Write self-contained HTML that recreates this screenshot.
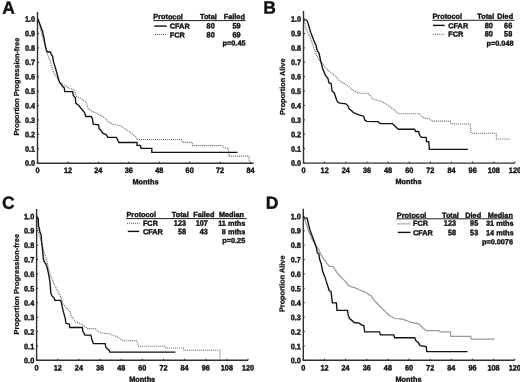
<!DOCTYPE html>
<html><head><meta charset="utf-8"><style>
html,body{margin:0;padding:0;background:#fff;}
svg{display:block;font-family:"Liberation Sans", sans-serif;filter:grayscale(1) blur(0.35px);}
text{fill:#111;stroke:#111;stroke-width:0.38px;}
</style></head><body>
<svg width="520" height="382" viewBox="0 0 520 382">
<rect width="520" height="382" fill="#fff"/>
<line x1="37.50" y1="12.00" x2="37.50" y2="163.20" stroke="#303030" stroke-width="1.4" />
<line x1="36.80" y1="163.20" x2="253.50" y2="163.20" stroke="#303030" stroke-width="1.4" />
<line x1="37.50" y1="163.20" x2="39.00" y2="163.20" stroke="#303030" stroke-width="1.0" />
<text transform="translate(35.10,165.75) rotate(0.1) scale(1,1.08)" font-size="7.3" text-anchor="end" font-weight="bold" >0.0</text>
<line x1="37.50" y1="148.80" x2="39.00" y2="148.80" stroke="#303030" stroke-width="1.0" />
<text transform="translate(35.10,151.80) rotate(0.1) scale(1,1.08)" font-size="7.3" text-anchor="end" font-weight="bold" >0.1</text>
<line x1="37.50" y1="134.40" x2="39.00" y2="134.40" stroke="#303030" stroke-width="1.0" />
<text transform="translate(35.10,137.35) rotate(0.1) scale(1,1.08)" font-size="7.3" text-anchor="end" font-weight="bold" >0.2</text>
<line x1="37.50" y1="120.00" x2="39.00" y2="120.00" stroke="#303030" stroke-width="1.0" />
<text transform="translate(35.10,122.90) rotate(0.1) scale(1,1.08)" font-size="7.3" text-anchor="end" font-weight="bold" >0.3</text>
<line x1="37.50" y1="105.60" x2="39.00" y2="105.60" stroke="#303030" stroke-width="1.0" />
<text transform="translate(35.10,108.45) rotate(0.1) scale(1,1.08)" font-size="7.3" text-anchor="end" font-weight="bold" >0.4</text>
<line x1="37.50" y1="91.20" x2="39.00" y2="91.20" stroke="#303030" stroke-width="1.0" />
<text transform="translate(35.10,94.00) rotate(0.1) scale(1,1.08)" font-size="7.3" text-anchor="end" font-weight="bold" >0.5</text>
<line x1="37.50" y1="76.80" x2="39.00" y2="76.80" stroke="#303030" stroke-width="1.0" />
<text transform="translate(35.10,79.55) rotate(0.1) scale(1,1.08)" font-size="7.3" text-anchor="end" font-weight="bold" >0.6</text>
<line x1="37.50" y1="62.40" x2="39.00" y2="62.40" stroke="#303030" stroke-width="1.0" />
<text transform="translate(35.10,65.10) rotate(0.1) scale(1,1.08)" font-size="7.3" text-anchor="end" font-weight="bold" >0.7</text>
<line x1="37.50" y1="48.00" x2="39.00" y2="48.00" stroke="#303030" stroke-width="1.0" />
<text transform="translate(35.10,50.65) rotate(0.1) scale(1,1.08)" font-size="7.3" text-anchor="end" font-weight="bold" >0.8</text>
<line x1="37.50" y1="33.60" x2="39.00" y2="33.60" stroke="#303030" stroke-width="1.0" />
<text transform="translate(35.10,36.20) rotate(0.1) scale(1,1.08)" font-size="7.3" text-anchor="end" font-weight="bold" >0.9</text>
<line x1="37.50" y1="19.20" x2="39.00" y2="19.20" stroke="#303030" stroke-width="1.0" />
<text transform="translate(35.10,21.75) rotate(0.1) scale(1,1.08)" font-size="7.3" text-anchor="end" font-weight="bold" >1.0</text>
<text transform="translate(37.50,173.00) rotate(0.1) scale(1,1.08)" font-size="7.3" text-anchor="middle" font-weight="bold" >0</text>
<line x1="67.93" y1="163.20" x2="67.93" y2="161.60" stroke="#303030" stroke-width="1.0" />
<text transform="translate(67.93,173.00) rotate(0.1) scale(1,1.08)" font-size="7.3" text-anchor="middle" font-weight="bold" >12</text>
<line x1="98.36" y1="163.20" x2="98.36" y2="161.60" stroke="#303030" stroke-width="1.0" />
<text transform="translate(98.36,173.00) rotate(0.1) scale(1,1.08)" font-size="7.3" text-anchor="middle" font-weight="bold" >24</text>
<line x1="128.80" y1="163.20" x2="128.80" y2="161.60" stroke="#303030" stroke-width="1.0" />
<text transform="translate(128.80,173.00) rotate(0.1) scale(1,1.08)" font-size="7.3" text-anchor="middle" font-weight="bold" >36</text>
<line x1="159.23" y1="163.20" x2="159.23" y2="161.60" stroke="#303030" stroke-width="1.0" />
<text transform="translate(159.23,173.00) rotate(0.1) scale(1,1.08)" font-size="7.3" text-anchor="middle" font-weight="bold" >48</text>
<line x1="189.66" y1="163.20" x2="189.66" y2="161.60" stroke="#303030" stroke-width="1.0" />
<text transform="translate(189.66,173.00) rotate(0.1) scale(1,1.08)" font-size="7.3" text-anchor="middle" font-weight="bold" >60</text>
<line x1="220.09" y1="163.20" x2="220.09" y2="161.60" stroke="#303030" stroke-width="1.0" />
<text transform="translate(220.09,173.00) rotate(0.1) scale(1,1.08)" font-size="7.3" text-anchor="middle" font-weight="bold" >72</text>
<line x1="250.52" y1="163.20" x2="250.52" y2="161.60" stroke="#303030" stroke-width="1.0" />
<text transform="translate(250.52,173.00) rotate(0.1) scale(1,1.08)" font-size="7.3" text-anchor="middle" font-weight="bold" >84</text>
<text transform="translate(145.50,184.20) rotate(0.1)" font-size="7.3" text-anchor="middle" font-weight="bold" >Months</text>
<text x="0.00" y="0.00" font-size="7.3" text-anchor="middle" font-weight="bold" transform="translate(19.1,86.65) rotate(-89.9)" style="stroke-width:0.25px" >Proportion Progression-free</text>
<text transform="translate(2.30,13.80) rotate(0.1)" font-size="17.5" text-anchor="start" font-weight="bold" >A</text>
<line x1="303.50" y1="11.00" x2="303.50" y2="163.10" stroke="#303030" stroke-width="1.4" />
<line x1="302.80" y1="163.10" x2="515.00" y2="163.10" stroke="#303030" stroke-width="1.4" />
<line x1="303.50" y1="163.10" x2="305.00" y2="163.10" stroke="#303030" stroke-width="1.0" />
<text transform="translate(301.10,165.75) rotate(0.1) scale(1,1.08)" font-size="7.3" text-anchor="end" font-weight="bold" >0.0</text>
<line x1="303.50" y1="148.70" x2="305.00" y2="148.70" stroke="#303030" stroke-width="1.0" />
<text transform="translate(301.10,151.80) rotate(0.1) scale(1,1.08)" font-size="7.3" text-anchor="end" font-weight="bold" >0.1</text>
<line x1="303.50" y1="134.30" x2="305.00" y2="134.30" stroke="#303030" stroke-width="1.0" />
<text transform="translate(301.10,137.35) rotate(0.1) scale(1,1.08)" font-size="7.3" text-anchor="end" font-weight="bold" >0.2</text>
<line x1="303.50" y1="119.90" x2="305.00" y2="119.90" stroke="#303030" stroke-width="1.0" />
<text transform="translate(301.10,122.90) rotate(0.1) scale(1,1.08)" font-size="7.3" text-anchor="end" font-weight="bold" >0.3</text>
<line x1="303.50" y1="105.50" x2="305.00" y2="105.50" stroke="#303030" stroke-width="1.0" />
<text transform="translate(301.10,108.45) rotate(0.1) scale(1,1.08)" font-size="7.3" text-anchor="end" font-weight="bold" >0.4</text>
<line x1="303.50" y1="91.10" x2="305.00" y2="91.10" stroke="#303030" stroke-width="1.0" />
<text transform="translate(301.10,94.00) rotate(0.1) scale(1,1.08)" font-size="7.3" text-anchor="end" font-weight="bold" >0.5</text>
<line x1="303.50" y1="76.70" x2="305.00" y2="76.70" stroke="#303030" stroke-width="1.0" />
<text transform="translate(301.10,79.55) rotate(0.1) scale(1,1.08)" font-size="7.3" text-anchor="end" font-weight="bold" >0.6</text>
<line x1="303.50" y1="62.30" x2="305.00" y2="62.30" stroke="#303030" stroke-width="1.0" />
<text transform="translate(301.10,65.10) rotate(0.1) scale(1,1.08)" font-size="7.3" text-anchor="end" font-weight="bold" >0.7</text>
<line x1="303.50" y1="47.90" x2="305.00" y2="47.90" stroke="#303030" stroke-width="1.0" />
<text transform="translate(301.10,50.65) rotate(0.1) scale(1,1.08)" font-size="7.3" text-anchor="end" font-weight="bold" >0.8</text>
<line x1="303.50" y1="33.50" x2="305.00" y2="33.50" stroke="#303030" stroke-width="1.0" />
<text transform="translate(301.10,36.20) rotate(0.1) scale(1,1.08)" font-size="7.3" text-anchor="end" font-weight="bold" >0.9</text>
<line x1="303.50" y1="19.10" x2="305.00" y2="19.10" stroke="#303030" stroke-width="1.0" />
<text transform="translate(301.10,21.75) rotate(0.1) scale(1,1.08)" font-size="7.3" text-anchor="end" font-weight="bold" >1.0</text>
<text transform="translate(303.50,173.00) rotate(0.1) scale(1,1.08)" font-size="7.3" text-anchor="middle" font-weight="bold" >0</text>
<line x1="324.64" y1="163.10" x2="324.64" y2="161.50" stroke="#303030" stroke-width="1.0" />
<text transform="translate(324.64,173.00) rotate(0.1) scale(1,1.08)" font-size="7.3" text-anchor="middle" font-weight="bold" >12</text>
<line x1="345.79" y1="163.10" x2="345.79" y2="161.50" stroke="#303030" stroke-width="1.0" />
<text transform="translate(345.79,173.00) rotate(0.1) scale(1,1.08)" font-size="7.3" text-anchor="middle" font-weight="bold" >24</text>
<line x1="366.93" y1="163.10" x2="366.93" y2="161.50" stroke="#303030" stroke-width="1.0" />
<text transform="translate(366.93,173.00) rotate(0.1) scale(1,1.08)" font-size="7.3" text-anchor="middle" font-weight="bold" >36</text>
<line x1="388.08" y1="163.10" x2="388.08" y2="161.50" stroke="#303030" stroke-width="1.0" />
<text transform="translate(388.08,173.00) rotate(0.1) scale(1,1.08)" font-size="7.3" text-anchor="middle" font-weight="bold" >48</text>
<line x1="409.22" y1="163.10" x2="409.22" y2="161.50" stroke="#303030" stroke-width="1.0" />
<text transform="translate(409.22,173.00) rotate(0.1) scale(1,1.08)" font-size="7.3" text-anchor="middle" font-weight="bold" >60</text>
<line x1="430.36" y1="163.10" x2="430.36" y2="161.50" stroke="#303030" stroke-width="1.0" />
<text transform="translate(430.36,173.00) rotate(0.1) scale(1,1.08)" font-size="7.3" text-anchor="middle" font-weight="bold" >72</text>
<line x1="451.51" y1="163.10" x2="451.51" y2="161.50" stroke="#303030" stroke-width="1.0" />
<text transform="translate(451.51,173.00) rotate(0.1) scale(1,1.08)" font-size="7.3" text-anchor="middle" font-weight="bold" >84</text>
<line x1="472.65" y1="163.10" x2="472.65" y2="161.50" stroke="#303030" stroke-width="1.0" />
<text transform="translate(472.65,173.00) rotate(0.1) scale(1,1.08)" font-size="7.3" text-anchor="middle" font-weight="bold" >96</text>
<line x1="493.80" y1="163.10" x2="493.80" y2="161.50" stroke="#303030" stroke-width="1.0" />
<text transform="translate(493.80,173.00) rotate(0.1) scale(1,1.08)" font-size="7.3" text-anchor="middle" font-weight="bold" >108</text>
<line x1="514.94" y1="163.10" x2="514.94" y2="161.50" stroke="#303030" stroke-width="1.0" />
<text transform="translate(514.94,173.00) rotate(0.1) scale(1,1.08)" font-size="7.3" text-anchor="middle" font-weight="bold" >120</text>
<text transform="translate(408.50,184.00) rotate(0.1)" font-size="7.3" text-anchor="middle" font-weight="bold" >Months</text>
<text x="0.00" y="0.00" font-size="7.3" text-anchor="middle" font-weight="bold" transform="translate(285.0,86.8) rotate(-89.9)" style="stroke-width:0.25px" >Proportion Alive</text>
<text transform="translate(263.30,13.60) rotate(0.1)" font-size="17.5" text-anchor="start" font-weight="bold" >B</text>
<line x1="36.60" y1="209.00" x2="36.60" y2="360.30" stroke="#303030" stroke-width="1.4" />
<line x1="35.90" y1="360.30" x2="248.00" y2="360.30" stroke="#303030" stroke-width="1.4" />
<line x1="36.60" y1="360.30" x2="38.10" y2="360.30" stroke="#303030" stroke-width="1.0" />
<text transform="translate(34.20,363.25) rotate(0.1) scale(1,1.08)" font-size="7.3" text-anchor="end" font-weight="bold" >0.0</text>
<line x1="36.60" y1="345.90" x2="38.10" y2="345.90" stroke="#303030" stroke-width="1.0" />
<text transform="translate(34.20,349.20) rotate(0.1) scale(1,1.08)" font-size="7.3" text-anchor="end" font-weight="bold" >0.1</text>
<line x1="36.60" y1="331.50" x2="38.10" y2="331.50" stroke="#303030" stroke-width="1.0" />
<text transform="translate(34.20,334.75) rotate(0.1) scale(1,1.08)" font-size="7.3" text-anchor="end" font-weight="bold" >0.2</text>
<line x1="36.60" y1="317.10" x2="38.10" y2="317.10" stroke="#303030" stroke-width="1.0" />
<text transform="translate(34.20,320.30) rotate(0.1) scale(1,1.08)" font-size="7.3" text-anchor="end" font-weight="bold" >0.3</text>
<line x1="36.60" y1="302.70" x2="38.10" y2="302.70" stroke="#303030" stroke-width="1.0" />
<text transform="translate(34.20,305.85) rotate(0.1) scale(1,1.08)" font-size="7.3" text-anchor="end" font-weight="bold" >0.4</text>
<line x1="36.60" y1="288.30" x2="38.10" y2="288.30" stroke="#303030" stroke-width="1.0" />
<text transform="translate(34.20,291.40) rotate(0.1) scale(1,1.08)" font-size="7.3" text-anchor="end" font-weight="bold" >0.5</text>
<line x1="36.60" y1="273.90" x2="38.10" y2="273.90" stroke="#303030" stroke-width="1.0" />
<text transform="translate(34.20,276.95) rotate(0.1) scale(1,1.08)" font-size="7.3" text-anchor="end" font-weight="bold" >0.6</text>
<line x1="36.60" y1="259.50" x2="38.10" y2="259.50" stroke="#303030" stroke-width="1.0" />
<text transform="translate(34.20,262.50) rotate(0.1) scale(1,1.08)" font-size="7.3" text-anchor="end" font-weight="bold" >0.7</text>
<line x1="36.60" y1="245.10" x2="38.10" y2="245.10" stroke="#303030" stroke-width="1.0" />
<text transform="translate(34.20,248.05) rotate(0.1) scale(1,1.08)" font-size="7.3" text-anchor="end" font-weight="bold" >0.8</text>
<line x1="36.60" y1="230.70" x2="38.10" y2="230.70" stroke="#303030" stroke-width="1.0" />
<text transform="translate(34.20,233.60) rotate(0.1) scale(1,1.08)" font-size="7.3" text-anchor="end" font-weight="bold" >0.9</text>
<line x1="36.60" y1="216.30" x2="38.10" y2="216.30" stroke="#303030" stroke-width="1.0" />
<text transform="translate(34.20,219.15) rotate(0.1) scale(1,1.08)" font-size="7.3" text-anchor="end" font-weight="bold" >1.0</text>
<text transform="translate(36.60,370.40) rotate(0.1) scale(1,1.08)" font-size="7.3" text-anchor="middle" font-weight="bold" >0</text>
<line x1="57.74" y1="360.30" x2="57.74" y2="358.70" stroke="#303030" stroke-width="1.0" />
<text transform="translate(57.74,370.40) rotate(0.1) scale(1,1.08)" font-size="7.3" text-anchor="middle" font-weight="bold" >12</text>
<line x1="78.89" y1="360.30" x2="78.89" y2="358.70" stroke="#303030" stroke-width="1.0" />
<text transform="translate(78.89,370.40) rotate(0.1) scale(1,1.08)" font-size="7.3" text-anchor="middle" font-weight="bold" >24</text>
<line x1="100.03" y1="360.30" x2="100.03" y2="358.70" stroke="#303030" stroke-width="1.0" />
<text transform="translate(100.03,370.40) rotate(0.1) scale(1,1.08)" font-size="7.3" text-anchor="middle" font-weight="bold" >36</text>
<line x1="121.18" y1="360.30" x2="121.18" y2="358.70" stroke="#303030" stroke-width="1.0" />
<text transform="translate(121.18,370.40) rotate(0.1) scale(1,1.08)" font-size="7.3" text-anchor="middle" font-weight="bold" >48</text>
<line x1="142.32" y1="360.30" x2="142.32" y2="358.70" stroke="#303030" stroke-width="1.0" />
<text transform="translate(142.32,370.40) rotate(0.1) scale(1,1.08)" font-size="7.3" text-anchor="middle" font-weight="bold" >60</text>
<line x1="163.46" y1="360.30" x2="163.46" y2="358.70" stroke="#303030" stroke-width="1.0" />
<text transform="translate(163.46,370.40) rotate(0.1) scale(1,1.08)" font-size="7.3" text-anchor="middle" font-weight="bold" >72</text>
<line x1="184.61" y1="360.30" x2="184.61" y2="358.70" stroke="#303030" stroke-width="1.0" />
<text transform="translate(184.61,370.40) rotate(0.1) scale(1,1.08)" font-size="7.3" text-anchor="middle" font-weight="bold" >84</text>
<line x1="205.75" y1="360.30" x2="205.75" y2="358.70" stroke="#303030" stroke-width="1.0" />
<text transform="translate(205.75,370.40) rotate(0.1) scale(1,1.08)" font-size="7.3" text-anchor="middle" font-weight="bold" >96</text>
<line x1="226.90" y1="360.30" x2="226.90" y2="358.70" stroke="#303030" stroke-width="1.0" />
<text transform="translate(226.90,370.40) rotate(0.1) scale(1,1.08)" font-size="7.3" text-anchor="middle" font-weight="bold" >108</text>
<line x1="248.04" y1="360.30" x2="248.04" y2="358.70" stroke="#303030" stroke-width="1.0" />
<text transform="translate(248.04,370.40) rotate(0.1) scale(1,1.08)" font-size="7.3" text-anchor="middle" font-weight="bold" >120</text>
<text transform="translate(142.20,381.80) rotate(0.1)" font-size="7.3" text-anchor="middle" font-weight="bold" >Months</text>
<text x="0.00" y="0.00" font-size="7.3" text-anchor="middle" font-weight="bold" transform="translate(19.0,284.25) rotate(-89.9)" style="stroke-width:0.25px" textLength="100.5" lengthAdjust="spacing">Proportion Progression-free</text>
<text transform="translate(2.00,208.80) rotate(0.1)" font-size="17.5" text-anchor="start" font-weight="bold" >C</text>
<line x1="303.30" y1="208.80" x2="303.30" y2="360.30" stroke="#303030" stroke-width="1.4" />
<line x1="302.60" y1="360.30" x2="514.60" y2="360.30" stroke="#303030" stroke-width="1.4" />
<line x1="303.30" y1="360.30" x2="304.80" y2="360.30" stroke="#303030" stroke-width="1.0" />
<text transform="translate(300.90,363.25) rotate(0.1) scale(1,1.08)" font-size="7.3" text-anchor="end" font-weight="bold" >0.0</text>
<line x1="303.30" y1="345.90" x2="304.80" y2="345.90" stroke="#303030" stroke-width="1.0" />
<text transform="translate(300.90,349.20) rotate(0.1) scale(1,1.08)" font-size="7.3" text-anchor="end" font-weight="bold" >0.1</text>
<line x1="303.30" y1="331.50" x2="304.80" y2="331.50" stroke="#303030" stroke-width="1.0" />
<text transform="translate(300.90,334.75) rotate(0.1) scale(1,1.08)" font-size="7.3" text-anchor="end" font-weight="bold" >0.2</text>
<line x1="303.30" y1="317.10" x2="304.80" y2="317.10" stroke="#303030" stroke-width="1.0" />
<text transform="translate(300.90,320.30) rotate(0.1) scale(1,1.08)" font-size="7.3" text-anchor="end" font-weight="bold" >0.3</text>
<line x1="303.30" y1="302.70" x2="304.80" y2="302.70" stroke="#303030" stroke-width="1.0" />
<text transform="translate(300.90,305.85) rotate(0.1) scale(1,1.08)" font-size="7.3" text-anchor="end" font-weight="bold" >0.4</text>
<line x1="303.30" y1="288.30" x2="304.80" y2="288.30" stroke="#303030" stroke-width="1.0" />
<text transform="translate(300.90,291.40) rotate(0.1) scale(1,1.08)" font-size="7.3" text-anchor="end" font-weight="bold" >0.5</text>
<line x1="303.30" y1="273.90" x2="304.80" y2="273.90" stroke="#303030" stroke-width="1.0" />
<text transform="translate(300.90,276.95) rotate(0.1) scale(1,1.08)" font-size="7.3" text-anchor="end" font-weight="bold" >0.6</text>
<line x1="303.30" y1="259.50" x2="304.80" y2="259.50" stroke="#303030" stroke-width="1.0" />
<text transform="translate(300.90,262.50) rotate(0.1) scale(1,1.08)" font-size="7.3" text-anchor="end" font-weight="bold" >0.7</text>
<line x1="303.30" y1="245.10" x2="304.80" y2="245.10" stroke="#303030" stroke-width="1.0" />
<text transform="translate(300.90,248.05) rotate(0.1) scale(1,1.08)" font-size="7.3" text-anchor="end" font-weight="bold" >0.8</text>
<line x1="303.30" y1="230.70" x2="304.80" y2="230.70" stroke="#303030" stroke-width="1.0" />
<text transform="translate(300.90,233.60) rotate(0.1) scale(1,1.08)" font-size="7.3" text-anchor="end" font-weight="bold" >0.9</text>
<line x1="303.30" y1="216.30" x2="304.80" y2="216.30" stroke="#303030" stroke-width="1.0" />
<text transform="translate(300.90,219.15) rotate(0.1) scale(1,1.08)" font-size="7.3" text-anchor="end" font-weight="bold" >1.0</text>
<text transform="translate(303.30,370.40) rotate(0.1) scale(1,1.08)" font-size="7.3" text-anchor="middle" font-weight="bold" >0</text>
<line x1="324.44" y1="360.30" x2="324.44" y2="358.70" stroke="#303030" stroke-width="1.0" />
<text transform="translate(324.44,370.40) rotate(0.1) scale(1,1.08)" font-size="7.3" text-anchor="middle" font-weight="bold" >12</text>
<line x1="345.59" y1="360.30" x2="345.59" y2="358.70" stroke="#303030" stroke-width="1.0" />
<text transform="translate(345.59,370.40) rotate(0.1) scale(1,1.08)" font-size="7.3" text-anchor="middle" font-weight="bold" >24</text>
<line x1="366.73" y1="360.30" x2="366.73" y2="358.70" stroke="#303030" stroke-width="1.0" />
<text transform="translate(366.73,370.40) rotate(0.1) scale(1,1.08)" font-size="7.3" text-anchor="middle" font-weight="bold" >36</text>
<line x1="387.88" y1="360.30" x2="387.88" y2="358.70" stroke="#303030" stroke-width="1.0" />
<text transform="translate(387.88,370.40) rotate(0.1) scale(1,1.08)" font-size="7.3" text-anchor="middle" font-weight="bold" >48</text>
<line x1="409.02" y1="360.30" x2="409.02" y2="358.70" stroke="#303030" stroke-width="1.0" />
<text transform="translate(409.02,370.40) rotate(0.1) scale(1,1.08)" font-size="7.3" text-anchor="middle" font-weight="bold" >60</text>
<line x1="430.16" y1="360.30" x2="430.16" y2="358.70" stroke="#303030" stroke-width="1.0" />
<text transform="translate(430.16,370.40) rotate(0.1) scale(1,1.08)" font-size="7.3" text-anchor="middle" font-weight="bold" >72</text>
<line x1="451.31" y1="360.30" x2="451.31" y2="358.70" stroke="#303030" stroke-width="1.0" />
<text transform="translate(451.31,370.40) rotate(0.1) scale(1,1.08)" font-size="7.3" text-anchor="middle" font-weight="bold" >84</text>
<line x1="472.45" y1="360.30" x2="472.45" y2="358.70" stroke="#303030" stroke-width="1.0" />
<text transform="translate(472.45,370.40) rotate(0.1) scale(1,1.08)" font-size="7.3" text-anchor="middle" font-weight="bold" >96</text>
<line x1="493.60" y1="360.30" x2="493.60" y2="358.70" stroke="#303030" stroke-width="1.0" />
<text transform="translate(493.60,370.40) rotate(0.1) scale(1,1.08)" font-size="7.3" text-anchor="middle" font-weight="bold" >108</text>
<line x1="514.74" y1="360.30" x2="514.74" y2="358.70" stroke="#303030" stroke-width="1.0" />
<text transform="translate(514.74,370.40) rotate(0.1) scale(1,1.08)" font-size="7.3" text-anchor="middle" font-weight="bold" >120</text>
<text transform="translate(408.50,381.80) rotate(0.1)" font-size="7.3" text-anchor="middle" font-weight="bold" >Months</text>
<text x="0.00" y="0.00" font-size="7.3" text-anchor="middle" font-weight="bold" transform="translate(284.6,283.8) rotate(-89.9)" style="stroke-width:0.25px" >Proportion Alive</text>
<text transform="translate(265.80,208.80) rotate(0.1)" font-size="17.5" text-anchor="start" font-weight="bold" >D</text>
<text transform="translate(153.30,19.10) rotate(0.1)" font-size="7.3" text-anchor="start" font-weight="bold" >Protocol</text>
<text transform="translate(200.00,19.10) rotate(0.1)" font-size="7.3" text-anchor="start" font-weight="bold" >Total</text>
<text transform="translate(223.80,19.10) rotate(0.1)" font-size="7.3" text-anchor="start" font-weight="bold" >Failed</text>
<line x1="153.30" y1="20.60" x2="245.50" y2="20.60" stroke="#222" stroke-width="1.0" />
<line x1="154.20" y1="26.10" x2="166.80" y2="26.10" stroke="#111" stroke-width="1.4" />
<text transform="translate(169.80,28.60) rotate(0.1)" font-size="7.3" text-anchor="start" font-weight="bold" >CFAR</text>
<text transform="translate(214.70,28.60) rotate(0.1) scale(1,1.08)" font-size="7.3" text-anchor="end" font-weight="bold" >80</text>
<text transform="translate(240.60,28.60) rotate(0.1) scale(1,1.08)" font-size="7.3" text-anchor="end" font-weight="bold" >59</text>
<line x1="155.00" y1="34.50" x2="166.50" y2="34.50" stroke="#555" stroke-width="1.1" stroke-dasharray="1,1"/>
<text transform="translate(169.80,37.40) rotate(0.1)" font-size="7.3" text-anchor="start" font-weight="bold" >FCR</text>
<text transform="translate(214.70,37.40) rotate(0.1) scale(1,1.08)" font-size="7.3" text-anchor="end" font-weight="bold" >80</text>
<text transform="translate(240.60,37.40) rotate(0.1) scale(1,1.08)" font-size="7.3" text-anchor="end" font-weight="bold" >69</text>
<text transform="translate(245.50,45.60) rotate(0.1)" font-size="7.3" text-anchor="end" font-weight="bold" >p=0.45</text>
<text transform="translate(432.50,18.80) rotate(0.1)" font-size="7.3" text-anchor="start" font-weight="bold" >Protocol</text>
<text transform="translate(477.30,18.80) rotate(0.1)" font-size="7.3" text-anchor="start" font-weight="bold" >Total</text>
<text transform="translate(497.30,18.80) rotate(0.1)" font-size="7.3" text-anchor="start" font-weight="bold" >Died</text>
<line x1="432.50" y1="20.30" x2="514.60" y2="20.30" stroke="#222" stroke-width="1.0" />
<line x1="433.00" y1="25.40" x2="444.70" y2="25.40" stroke="#111" stroke-width="1.4" />
<text transform="translate(448.30,28.30) rotate(0.1)" font-size="7.3" text-anchor="start" font-weight="bold" >CFAR</text>
<text transform="translate(492.80,28.30) rotate(0.1) scale(1,1.08)" font-size="7.3" text-anchor="end" font-weight="bold" >80</text>
<text transform="translate(512.20,28.30) rotate(0.1) scale(1,1.08)" font-size="7.3" text-anchor="end" font-weight="bold" >66</text>
<line x1="432.80" y1="34.30" x2="445.00" y2="34.30" stroke="#555" stroke-width="1.0" stroke-dasharray="1,1"/>
<text transform="translate(448.30,36.60) rotate(0.1)" font-size="7.3" text-anchor="start" font-weight="bold" >FCR</text>
<text transform="translate(492.80,36.60) rotate(0.1) scale(1,1.08)" font-size="7.3" text-anchor="end" font-weight="bold" >80</text>
<text transform="translate(512.20,36.60) rotate(0.1) scale(1,1.08)" font-size="7.3" text-anchor="end" font-weight="bold" >58</text>
<text transform="translate(513.50,45.80) rotate(0.1)" font-size="7.3" text-anchor="end" font-weight="bold" >p=0.048</text>
<text transform="translate(126.50,216.90) rotate(0.1)" font-size="7.3" text-anchor="start" font-weight="bold" >Protocol</text>
<text transform="translate(171.80,216.90) rotate(0.1)" font-size="7.3" text-anchor="start" font-weight="bold" >Total</text>
<text transform="translate(193.30,216.90) rotate(0.1)" font-size="7.3" text-anchor="start" font-weight="bold" >Failed</text>
<text transform="translate(218.90,216.90) rotate(0.1)" font-size="7.3" text-anchor="start" font-weight="bold" >Median</text>
<line x1="126.00" y1="218.60" x2="246.60" y2="218.60" stroke="#222" stroke-width="1.0" />
<line x1="127.00" y1="223.30" x2="139.70" y2="223.30" stroke="#444" stroke-width="1.1" stroke-dasharray="1,1"/>
<text transform="translate(142.90,225.80) rotate(0.1)" font-size="7.3" text-anchor="start" font-weight="bold" >FCR</text>
<text transform="translate(186.00,225.80) rotate(0.1) scale(1,1.08)" font-size="7.3" text-anchor="end" font-weight="bold" >123</text>
<text transform="translate(207.90,225.80) rotate(0.1) scale(1,1.08)" font-size="7.3" text-anchor="end" font-weight="bold" >107</text>
<text transform="translate(245.40,225.80) rotate(0.1)" font-size="7.3" text-anchor="end" font-weight="bold" >11 mths</text>
<line x1="127.80" y1="231.40" x2="139.20" y2="231.40" stroke="#111" stroke-width="1.4" />
<text transform="translate(142.90,234.20) rotate(0.1)" font-size="7.3" text-anchor="start" font-weight="bold" >CFAR</text>
<text transform="translate(186.00,234.20) rotate(0.1) scale(1,1.08)" font-size="7.3" text-anchor="end" font-weight="bold" >58</text>
<text transform="translate(207.90,234.20) rotate(0.1) scale(1,1.08)" font-size="7.3" text-anchor="end" font-weight="bold" >43</text>
<text transform="translate(245.40,234.20) rotate(0.1)" font-size="7.3" text-anchor="end" font-weight="bold" >8 mths</text>
<text transform="translate(245.20,242.90) rotate(0.1)" font-size="7.3" text-anchor="end" font-weight="bold" >p=0.25</text>
<text transform="translate(396.80,217.80) rotate(0.1)" font-size="7.3" text-anchor="start" font-weight="bold" >Protocol</text>
<text transform="translate(442.00,217.80) rotate(0.1)" font-size="7.3" text-anchor="start" font-weight="bold" >Total</text>
<text transform="translate(465.30,217.80) rotate(0.1)" font-size="7.3" text-anchor="start" font-weight="bold" >Died</text>
<text transform="translate(487.70,217.80) rotate(0.1)" font-size="7.3" text-anchor="start" font-weight="bold" >Median</text>
<line x1="396.40" y1="218.80" x2="513.00" y2="218.80" stroke="#222" stroke-width="1.0" />
<line x1="397.00" y1="223.90" x2="410.60" y2="223.90" stroke="#aaa" stroke-width="1.2" />
<text transform="translate(413.00,225.80) rotate(0.1)" font-size="7.3" text-anchor="start" font-weight="bold" >FCR</text>
<text transform="translate(456.00,225.80) rotate(0.1) scale(1,1.08)" font-size="7.3" text-anchor="end" font-weight="bold" >123</text>
<text transform="translate(478.20,225.80) rotate(0.1) scale(1,1.08)" font-size="7.3" text-anchor="end" font-weight="bold" >95</text>
<text transform="translate(513.60,225.80) rotate(0.1)" font-size="7.3" text-anchor="end" font-weight="bold" >31 mths</text>
<line x1="397.80" y1="232.40" x2="410.60" y2="232.40" stroke="#111" stroke-width="1.4" />
<text transform="translate(413.00,235.30) rotate(0.1)" font-size="7.3" text-anchor="start" font-weight="bold" >CFAR</text>
<text transform="translate(456.00,235.30) rotate(0.1) scale(1,1.08)" font-size="7.3" text-anchor="end" font-weight="bold" >58</text>
<text transform="translate(478.20,235.30) rotate(0.1) scale(1,1.08)" font-size="7.3" text-anchor="end" font-weight="bold" >53</text>
<text transform="translate(513.60,235.30) rotate(0.1)" font-size="7.3" text-anchor="end" font-weight="bold" >14 mths</text>
<text transform="translate(513.00,244.20) rotate(0.1)" font-size="7.3" text-anchor="end" font-weight="bold" >p=0.0076</text>
<polyline points="37.8,19.2 39.6,24.5 41.2,32.4 42.5,37.0 44.2,42.2 46.3,51.1 49.4,59.0 51.0,64.2 52.6,69.4 53.6,72.6 56.0,76.5 58.9,81.1 64.2,85.1 68.1,87.7 74.6,90.3 76.6,96.2 81.2,98.8 86.4,102.1 87.7,108.0 91.6,111.2 96.9,113.2 100.2,115.2 104.1,117.6 108.3,121.6 112.3,124.2 120.1,125.5 124.0,128.1 129.3,131.4 133.2,134.7 135.6,136.5 136.8,139.5 181.6,139.5 182.2,142.4 192.3,142.4 192.5,145.6 222.0,145.6 224.0,147.5 226.0,148.2 228.6,148.2 228.8,156.1 249.0,156.1 249.2,162.6" fill="none" stroke="#606060" stroke-width="1.1" stroke-linejoin="miter" stroke-dasharray="1,1"/>
<polyline points="37.8,19.2 38.7,21.0 39.6,23.5 40.5,26.0 41.6,29.0 42.6,31.5 43.2,35.0 44.1,38.5 44.8,43.5 46.2,49.5 47.4,52.0 50.5,52.0 51.2,54.5 52.6,56.3 53.6,62.1 55.2,67.3 56.8,72.6 57.8,76.7 59.6,82.4 62.2,85.7 64.2,87.7 64.8,91.6 72.7,91.6 73.3,95.5 75.3,97.5 75.9,103.4 78.6,105.3 81.8,109.3 84.5,112.5 85.8,116.5 91.0,116.5 92.3,118.3 93.3,124.2 98.5,124.9 99.2,128.8 101.1,130.8 103.1,133.4 106.4,134.7 107.7,137.3 116.2,137.3 117.5,139.3 118.8,142.5 137.0,142.5 137.0,145.4 140.5,145.4 141.0,148.3 151.8,148.3 151.8,152.4 237.5,152.4" fill="none" stroke="#111" stroke-width="1.35" stroke-linejoin="miter" />
<polyline points="303.5,19.2 304.5,21.3 305.8,27.6 307.7,32.6 310.2,37.6 312.0,42.6 313.9,47.7 315.2,51.4 317.1,56.5 319.5,60.5 321.5,62.5 324.8,66.8 328.5,70.9 332.7,73.6 335.8,76.7 340.0,81.4 344.2,83.5 347.3,85.6 351.5,88.7 352.5,90.1 356.4,92.0 360.3,93.3 368.2,93.3 370.2,95.9 372.8,99.3 382.0,101.4 385.9,104.0 392.5,108.6 397.1,112.5 399.0,113.8 420.0,113.8 421.5,116.5 424.9,118.3 429.5,118.8 431.8,121.1 450.3,121.1 450.9,124.0 469.9,124.0 470.5,126.3 471.2,133.2 496.2,133.2 496.4,139.0 510.5,139.0" fill="none" stroke="#606060" stroke-width="1.1" stroke-linejoin="miter" stroke-dasharray="1,1"/>
<polyline points="303.5,19.3 306.7,20.2 307.8,22.5 309.3,27.7 310.9,32.9 312.5,37.1 314.6,42.4 316.1,45.5 317.2,50.7 319.0,53.1 320.6,60.5 322.7,68.8 325.3,75.1 327.9,78.3 329.0,83.0 331.1,83.5 332.2,91.4 334.2,92.7 336.8,100.5 338.1,102.5 340.1,103.1 345.9,103.8 347.9,105.8 349.2,109.0 351.2,110.3 353.1,112.3 355.8,113.6 359.0,114.9 363.6,116.2 364.9,120.2 366.9,121.4 378.1,121.6 380.1,123.6 392.5,123.6 395.1,126.2 398.4,129.2 414.6,129.2 415.5,131.5 418.7,131.5 419.2,134.2 420.6,136.5 421.5,137.4 426.1,137.4 426.5,141.6 428.8,141.6 429.3,149.4 468.0,149.4" fill="none" stroke="#111" stroke-width="1.35" stroke-linejoin="miter" />
<polyline points="36.6,216.3 37.6,219.0 37.9,226.0 38.4,232.0 40.2,237.5 41.9,243.0 43.2,249.0 44.2,253.5 46.0,257.6 47.0,261.8 48.6,269.1 50.1,274.3 52.2,279.6 55.5,287.0 58.1,291.6 61.4,298.1 63.3,304.0 66.6,308.0 69.2,310.6 71.8,316.8 75.7,322.0 80.9,324.0 84.9,326.6 87.5,328.6 95.3,328.6 99.3,332.5 103.2,333.1 109.7,333.8 113.7,335.8 116.2,336.2 120.8,339.2 123.1,340.8 136.9,340.8 138.5,346.2 164.6,346.2 166.2,348.0 183.5,348.0 184.0,350.2 219.8,350.2 220.0,359.5" fill="none" stroke="#606060" stroke-width="1.1" stroke-linejoin="miter" stroke-dasharray="1,1"/>
<polyline points="36.6,216.3 36.9,217.9 38.2,218.2 38.6,226.2 39.4,228.8 39.9,232.1 41.1,234.6 41.5,240.5 42.3,248.0 42.8,252.6 43.3,258.8 44.4,262.0 45.9,264.1 47.0,267.2 48.0,271.4 49.1,276.6 49.6,280.0 50.2,284.4 50.9,293.6 52.2,296.2 54.2,298.1 54.8,300.4 60.7,300.4 61.4,302.7 63.0,310.4 65.2,318.1 65.9,323.3 69.2,324.0 69.8,327.5 82.3,327.5 82.9,331.2 84.9,335.1 90.8,335.1 92.1,340.3 93.4,343.6 105.2,343.6 105.8,347.5 109.1,350.2 109.7,352.1 175.4,352.1" fill="none" stroke="#111" stroke-width="1.35" stroke-linejoin="miter" />
<polyline points="303.3,216.3 305.5,221.4 308.6,230.8 311.8,238.7 315.7,245.0 318.8,249.7 320.4,253.6 322.8,257.5 325.9,262.2 329.0,266.2 333.0,266.5 335.3,270.1 338.3,274.3 341.4,277.5 344.6,280.6 346.6,282.8 348.8,285.9 355.3,287.9 359.3,289.8 364.5,291.8 366.3,292.6 368.4,294.4 371.0,295.7 375.7,302.0 380.4,306.7 385.1,311.4 389.0,315.3 395.3,318.5 402.4,319.2 407.1,320.8 410.0,322.1 418.7,323.8 420.8,325.8 423.5,328.5 426.2,330.5 438.9,330.5 440.3,331.9 450.5,331.9 450.8,336.3 470.6,336.3 471.4,339.2 494.6,339.2" fill="none" stroke="#999" stroke-width="1.25" stroke-linejoin="miter" />
<polyline points="303.3,216.3 303.9,218.1 307.1,218.1 308.6,224.6 310.2,230.8 312.6,237.1 314.9,243.4 316.5,248.1 317.3,252.8 318.8,253.6 319.6,259.1 321.2,263.8 322.8,271.7 324.7,276.4 326.2,281.1 327.9,286.5 329.2,290.5 331.1,291.8 332.4,302.9 336.4,302.9 337.0,310.4 347.5,310.4 348.1,314.7 349.5,318.6 352.1,320.6 354.0,322.5 359.3,323.2 361.2,324.8 363.8,325.5 364.7,331.8 379.6,331.8 380.4,334.9 393.8,334.9 394.5,337.7 414.7,337.7 416.1,341.0 418.1,342.3 420.1,345.7 426.2,346.5 426.8,351.5 467.5,351.6" fill="none" stroke="#111" stroke-width="1.35" stroke-linejoin="miter" />
</svg></body></html>
